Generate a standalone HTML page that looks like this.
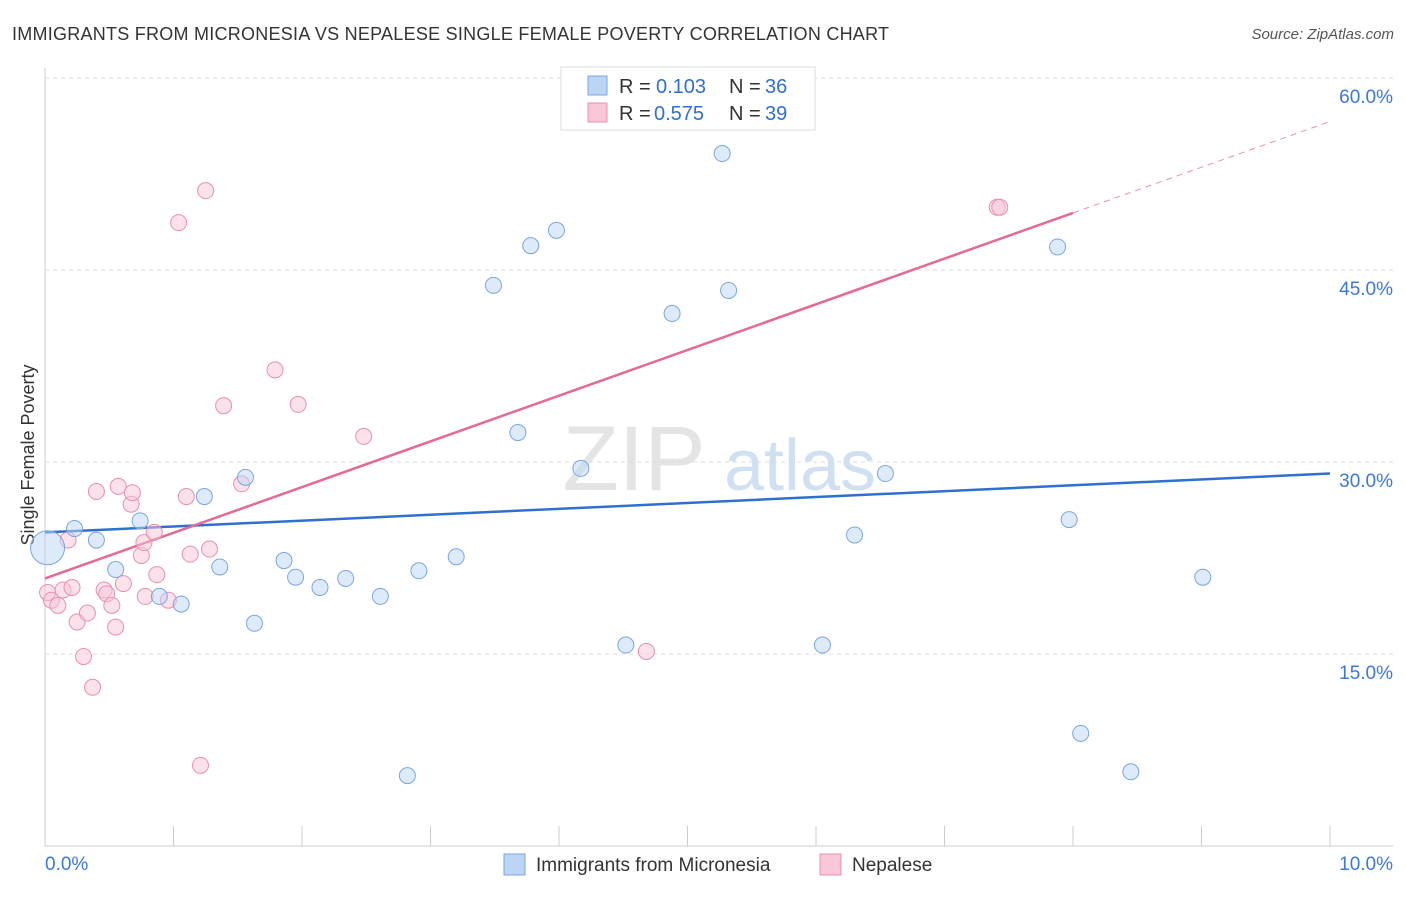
<!DOCTYPE html>
<html><head><meta charset="utf-8"><style>
body{margin:0;background:#fff;font-family:"Liberation Sans",sans-serif}
svg text{font-family:"Liberation Sans",sans-serif}
</style></head><body>
<svg id="chart" width="1406" height="892" xmlns="http://www.w3.org/2000/svg">
<text x="12" y="40" font-size="18" fill="#333" textLength="877">IMMIGRANTS FROM MICRONESIA VS NEPALESE SINGLE FEMALE POVERTY CORRELATION CHART</text>
<text x="1394" y="39" font-size="15" fill="#555" text-anchor="end" font-style="italic">Source: ZipAtlas.com</text>
<text x="34" y="455" font-size="18" fill="#333" text-anchor="middle" transform="rotate(-90 34 455)">Single Female Poverty</text>
<g><text x="634" y="490" font-size="92" fill="#e4e4e4" text-anchor="middle" font-family="Liberation Serif">ZIP</text><text x="800" y="490" font-size="72" fill="#cfe0f3" text-anchor="middle">atlas</text></g>
<g id="grid"></g><g id="axes"></g><g id="trends"></g><g id="points"></g>
<g>
<rect x="561" y="67" width="254" height="63" fill="#fff" stroke="#ddd"/>
<rect x="588" y="76" width="19" height="19" fill="#bcd5f5" stroke="#7aa6e0"/>
<text x="619" y="93" font-size="20" fill="#333">R = </text><text x="656" y="93" font-size="20" fill="#2f6fd0">0.103</text>
<text x="729" y="93" font-size="20" fill="#333">N = </text><text x="765" y="93" font-size="20" fill="#2f6fd0">36</text>
<rect x="588" y="103" width="19" height="19" fill="#f8c6d6" stroke="#e890ad"/>
<text x="619" y="120" font-size="20" fill="#333">R = </text><text x="654" y="120" font-size="20" fill="#2f6fd0">0.575</text>
<text x="729" y="120" font-size="20" fill="#333">N = </text><text x="765" y="120" font-size="20" fill="#2f6fd0">39</text>
</g>
<g>
<rect x="504" y="854" width="21" height="21" fill="#bcd5f5" stroke="#7aa6e0"/>
<text x="536" y="871" font-size="19" fill="#333">Immigrants from Micronesia</text>
<rect x="820" y="854" width="21" height="21" fill="#f8c6d6" stroke="#e890ad"/>
<text x="852" y="871" font-size="19" fill="#333">Nepalese</text>
</g>
</svg>
<script>
const blueX=[0.02,0.23,0.40,0.55,0.74,0.89,1.06,1.24,1.36,1.56,1.63,1.86,1.95,2.14,2.34,2.61,2.82,2.91,3.20,3.49,3.68,3.78,3.98,4.17,4.52,4.88,5.27,5.32,6.05,6.30,6.54,7.88,7.97,8.06,8.45,9.01];
const blueY=[23.3,24.8,23.9,21.6,25.4,19.5,18.9,27.3,21.8,28.8,17.4,22.3,21.0,20.2,20.9,19.5,5.5,21.5,22.6,43.8,32.3,46.9,48.1,29.5,15.7,41.6,54.1,43.4,15.7,24.3,29.1,46.8,25.5,8.8,5.8,21.0];
const pinkX=[0.02,0.05,0.10,0.18,0.14,0.21,0.25,0.30,0.33,0.37,0.40,0.46,0.48,0.52,0.55,0.57,0.61,0.67,0.68,0.75,0.77,0.78,0.85,0.87,0.96,1.04,1.10,1.13,1.21,1.25,1.28,1.39,1.53,1.79,1.97,2.48,4.68,7.41,7.43];
const pinkY=[19.8,19.2,18.8,23.9,20.0,20.2,17.5,14.8,18.2,12.4,27.7,20.0,19.7,18.8,17.1,28.1,20.5,26.7,27.6,22.7,23.7,19.5,24.5,21.2,19.2,48.7,27.3,22.8,6.3,51.2,23.2,34.4,28.3,37.2,34.5,32.0,15.2,49.9,49.9];
const yTicks=[15,30,45,60];
const xTickCount=10;
const blueTrend=[24.5,29.1];
const pinkTrend=[20.9,56.6];
const pinkSolidEnd=8.0;
const NS="http://www.w3.org/2000/svg";
const X=v=>45+v*128.5, Y=v=>846-v*12.8;
function mk(tag,attrs,parent){const e=document.createElementNS(NS,tag);for(const k in attrs)e.setAttribute(k,attrs[k]);document.getElementById(parent).appendChild(e);return e;}
yTicks.forEach(t=>{
 const l=mk('line',{x1:45,x2:1393,y1:Y(t),y2:Y(t),stroke:'#ddd','stroke-dasharray':'4,4'},'grid');
 
 
 const tx=mk('text',{x:1393,y:Y(t)+25,'font-size':19,fill:'#3b78d8','text-anchor':'end'},'grid');
 tx.textContent=t.toFixed(1)+'%';
 
 
});
mk('line',{x1:45,x2:45,y1:68,y2:846,stroke:'#ccc'},'axes');
mk('line',{x1:45,x2:1393,y1:846,y2:846,stroke:'#ccc'},'axes');
for(let i=0;i<=xTickCount;i++){const t=mk('line',{x1:X(i),x2:X(i),y1:826,y2:846,stroke:'#ccc'},'axes');
 
 }
const a=mk('text',{x:45,y:870,'font-size':19,fill:'#3b78d8'},'axes');a.textContent='0.0%';


const b=mk('text',{x:1393,y:870,'font-size':19,fill:'#3b78d8','text-anchor':'end'},'axes');b.textContent='10.0%';


function pt(xs,ys,fill,stroke,name,bigIdx){xs.forEach((x,i)=>{const c=mk('circle',{cx:X(x),cy:Y(ys[i]),r:i===bigIdx?17:8,fill:fill,'fill-opacity':0.5,stroke:stroke,'stroke-width':1},'points');
 
 });}
pt(pinkX,pinkY,'#f8c6d6','#e890ad','nepalese-point',-1);
pt(blueX,blueY,'#bcd5f5','#7aa6e0','micronesia-point',0);
const bt=mk('line',{x1:X(0),y1:Y(blueTrend[0]),x2:X(10),y2:Y(blueTrend[1]),stroke:'#2f6fd0','stroke-width':2.5},'trends');


const pm=v=>pinkTrend[0]+(pinkTrend[1]-pinkTrend[0])*v/10;
const ps=mk('line',{x1:X(0),y1:Y(pinkTrend[0]),x2:X(pinkSolidEnd),y2:Y(pm(pinkSolidEnd)),stroke:'#e56a93','stroke-width':2.5},'trends');


const pd=mk('line',{x1:X(pinkSolidEnd),y1:Y(pm(pinkSolidEnd)),x2:X(10),y2:Y(pinkTrend[1]),stroke:'#e890ad','stroke-width':1,'stroke-dasharray':'6,5'},'trends');


</script>
</body></html>
